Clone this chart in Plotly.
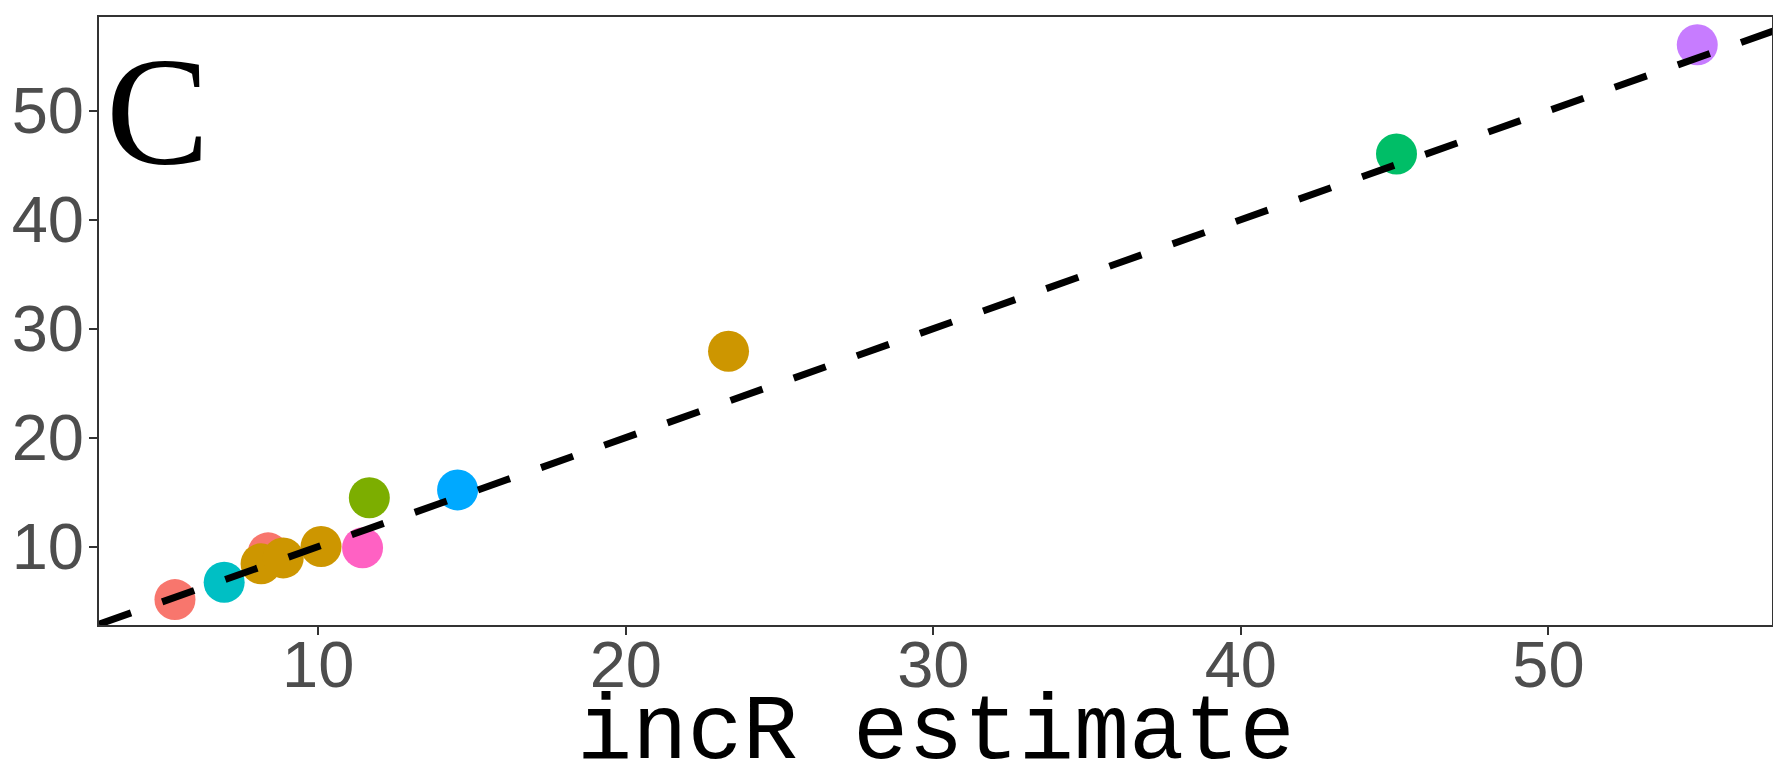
import plotly.graph_objects as go

# ---- data ----
groups = ["G1", "G5", "G1", "G2", "G2", "G2", "G8", "G3", "G6", "G2", "G4", "G7"]
incR_estimate = [5.34, 6.94, 8.37, 8.14, 8.86, 10.09, 11.44, 11.66, 14.53, 23.34, 45.06, 54.84]
other_estimate = [5.13, 6.72, 9.42, 8.41, 8.96, 10.00, 9.88, 14.48, 15.20, 27.92, 46.03, 56.05]
x_ticks = [10, 20, 30, 40, 50]
y_ticks = [10, 20, 30, 40, 50]
panel_label = "C"
x_title = "incR estimate"

# ---- styling ----
palette = {
    "G1": "#F8766D", "G2": "#CD9600", "G3": "#7CAE00", "G4": "#00BE67",
    "G5": "#00BFC4", "G6": "#00A9FF", "G7": "#C77CFF", "G8": "#FF61C3",
}
x_range = [2.87, 57.27]
y_range = [2.80, 58.60]

fig = go.Figure()
fig.add_trace(go.Scatter(
    x=incR_estimate, y=other_estimate, mode="markers",
    marker=dict(size=41, color=[palette[g] for g in groups], line=dict(width=0)),
    showlegend=False, hoverinfo="x+y",
))
# identity line y = x
lo = max(x_range[0], y_range[0])
hi = min(x_range[1], y_range[1])
fig.add_trace(go.Scatter(
    x=[lo, hi + 10], y=[lo, hi + 10], mode="lines",
    line=dict(color="black", width=7, dash="34px,33px"),
    showlegend=False, hoverinfo="skip",
))

axis_common = dict(
    showgrid=False, zeroline=False, showline=True, mirror=True,
    linecolor="#333333", linewidth=2, ticks="outside", ticklen=8,
    tickwidth=2, tickcolor="#333333",
    tickfont=dict(family="Liberation Sans, Arial, sans-serif", size=65, color="#4D4D4D"),
)
fig.update_xaxes(range=x_range, tickvals=x_ticks, ticktext=[str(v) for v in x_ticks],
                 ticklabelstandoff=-26, **axis_common)
fig.update_yaxes(range=y_range, tickvals=y_ticks, ticktext=[str(v) for v in y_ticks],
                 ticklabelstandoff=-8, **axis_common)

fig.add_annotation(text=x_title, xref="paper", yref="paper", x=0.5, y=-0.089,
                   xanchor="center", yanchor="top", showarrow=False,
                   font=dict(family="Liberation Mono, Courier New, monospace", size=92, color="black"))

fig.add_annotation(text=panel_label, xref="paper", yref="paper", x=0.003, y=0.845,
                   xanchor="left", yanchor="middle", showarrow=False,
                   font=dict(family="Liberation Serif, Times New Roman, serif", size=155, color="black"))

fig.update_layout(
    width=1773, height=767,
    margin=dict(l=99, r=1, t=17, b=142, autoexpand=False),
    plot_bgcolor="white", paper_bgcolor="white",
)

fig.write_html("out.html", config={"displayModeBar": False},
               post_script="document.body.style.margin='0';")
